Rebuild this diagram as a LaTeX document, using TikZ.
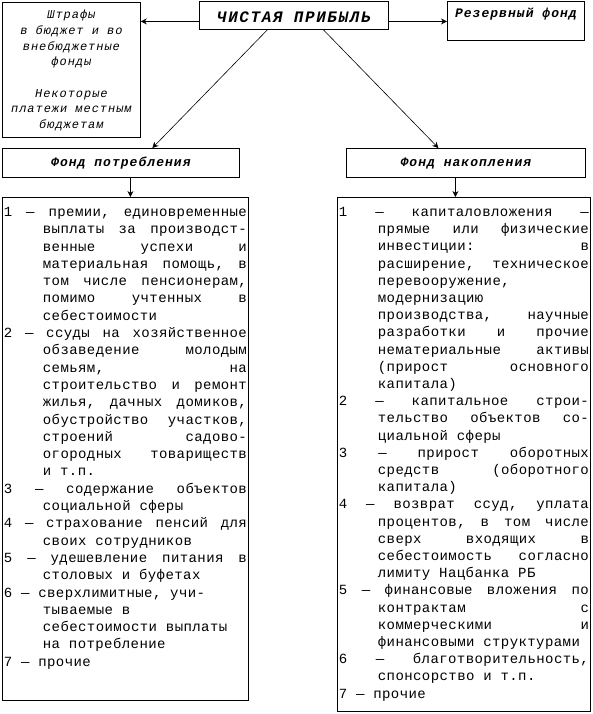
\documentclass[tikz,border=0pt]{standalone}
\usepackage{fontspec}
\setmainfont{Liberation Mono}
\newfontfamily\kur[LetterSpace=3]{Liberation Mono}
\newfontfamily\zag[LetterSpace=8]{Liberation Mono}
\newfontfamily\titel[LetterSpace=10]{Liberation Mono}
\usetikzlibrary{arrows.meta}
\newcommand\punkt{\par\hangindent=39pt\hangafter=1\relax}
\newcommand\spisok[1]{\kur\fontsize{14}{#1}\selectfont\frenchspacing\parskip=0pt
  \lineskiplimit=-10pt\tolerance=10000\hbadness=10000\leftskip=1.5pt\rightskip=1.5pt}

\begin{document}
\begin{tikzpicture}[x=1pt,y=-1pt,
    kasten/.style={draw, line width=0.8pt, inner sep=0pt, anchor=north west},
    kopf/.style={kasten, font=\zag\fontsize{13}{15}\selectfont\bfseries\itshape},
    pfeil/.style={-{Stealth[length=6pt,width=6pt,inset=2pt]}, line width=0.6pt}]
    % Рамка рисунка
    \useasboundingbox (0,0) rectangle (592,714);

    % Чистая прибыль
    \node[kasten, minimum width=189pt, minimum height=28pt, text height=16pt, text depth=2.6pt,
      font=\titel\fontsize{16}{18}\selectfont\bfseries\itshape] (chist) at (199,1) {ЧИСТАЯ ПРИБЫЛЬ};

    % Штрафы и платежи
    \node[kasten] (lfond) at (2,2) {\parbox[c][135pt][t]{138pt}{\zag\fontsize{12}{15.6}\selectfont\itshape\centering
      \rule{0pt}{16.5pt}Штрафы\\в бюджет и во\\внебюджетные\\фонды\\[16pt]Некоторые\\платежи местным\\бюджетам}};

    % Резервный фонд
    \node[kopf, minimum width=137pt, text height=16pt, text depth=23pt] (rezerv) at (447,1) {Резервный фонд};

    % Два фонда
    \node[kopf, minimum width=237pt, minimum height=29pt, text height=10pt, text depth=3pt] (potr) at (2,148) {Фонд потребления};
    \node[kopf, minimum width=239pt, minimum height=29pt, text height=10pt, text depth=3pt] (nakop) at (346,148) {Фонд накопления};

    % Направления фонда потребления
    \node[kasten] (lspis) at (2,197) {\parbox[c][503pt][t]{246pt}{\spisok{17.3}
      \punkt\rule{0pt}{19pt}1 — премии, единовременные\linebreak выплаты за производст-\linebreak
        венные успехи и\linebreak материальная помощь, в\linebreak том числе пенсионерам,\linebreak
        помимо учтенных в\linebreak себестоимости
      \punkt 2 — ссуды на хозяйственное\linebreak обзаведение молодым\linebreak семьям, на\linebreak
        строительство и ремонт\linebreak жилья, дачных домиков,\linebreak обустройство участков,\linebreak
        строений садово-\linebreak огородных товариществ\linebreak и т.п.
      \punkt 3 — содержание объектов\linebreak социальной сферы
      \punkt 4 — страхование пенсий для\linebreak своих сотрудников
      \punkt 5 — удешевление питания в\linebreak столовых и буфетах
      \punkt 6 — сверхлимитные, учи-\\тываемые в\\себестоимости выплаты\\на потребление
      \punkt 7 — прочие\par}};

    % Направления фонда накопления
    \node[kasten] (rspis) at (337,197) {\parbox[c][514pt][t]{253pt}{\spisok{17.2}
      \punkt\rule{0pt}{19pt}1 — капиталовложения —\linebreak прямые или физические\linebreak инвестиции: в\linebreak
        расширение, техническое\linebreak перевооружение,\linebreak модернизацию\linebreak
        производства, научные\linebreak разработки и прочие\linebreak нематериальные активы\linebreak
        (прирост основного\linebreak капитала)
      \punkt 2 — капитальное строи-\linebreak тельство объектов со-\linebreak циальной сферы
      \punkt 3 — прирост оборотных\linebreak средств (оборотного\linebreak капитала)
      \punkt 4 — возврат ссуд, уплата\linebreak процентов, в том числе\linebreak сверх входящих в\linebreak
        себестоимость согласно\linebreak лимиту Нацбанка РБ
      \punkt 5 — финансовые вложения по\linebreak контрактам с\linebreak коммерческими и\linebreak
        финансовыми структурами
      \punkt 6 — благотворительность,\linebreak спонсорство и т.п.
      \punkt 7 — прочие\par}};

    % Стрелки
    \draw[pfeil] ([yshift=-6pt]chist.west) -- ([yshift=-6pt]chist.west -| lfond.east);
    \draw[pfeil] ([yshift=-6pt]chist.east) -- ([yshift=-6pt]chist.east -| rezerv.west);
    \draw[pfeil] ([xshift=-26.5pt]chist.south) -- ([xshift=31.5pt]potr.north);
    \draw[pfeil] ([xshift=29.5pt]chist.south) -- ([xshift=-27.5pt]nakop.north);
    \draw[pfeil] ([xshift=9.5pt]potr.south) -- ([xshift=9.5pt]potr.south |- lspis.north);
    \draw[pfeil] ([xshift=-10.5pt]nakop.south) -- ([xshift=-10.5pt]nakop.south |- rspis.north);
\end{tikzpicture}
\end{document}
